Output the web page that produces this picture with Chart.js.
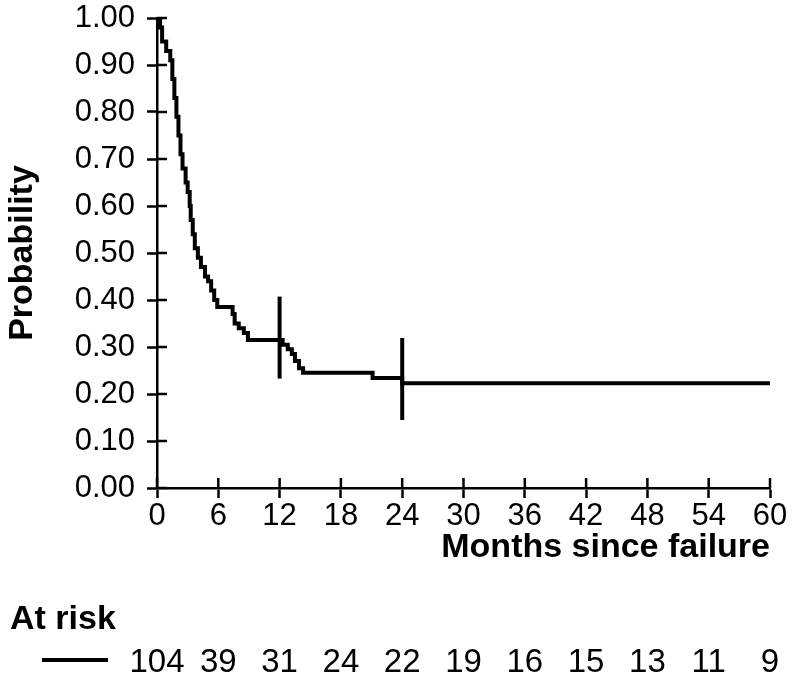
<!DOCTYPE html>
<html>
<head>
<meta charset="utf-8">
<script src="https://cdn.jsdelivr.net/npm/chart.js@4/dist/chart.umd.min.js"></script>
<style>
  body { margin: 0; background: #fff; }
  #grafica { display: block; }
</style>
</head>
<body>
<canvas id="grafica" width="795" height="686"></canvas>
<script>
// curva Kaplan-Meier (meses, probabilidad)
const meses = [0, 0.3, 0.5, 0.9, 1.3, 1.5, 1.7, 1.9, 2.1, 2.3, 2.5, 2.8, 3.0, 3.2, 3.3, 3.5, 3.7, 4.0, 4.3, 4.7,
  5.0, 5.3, 5.6, 5.9, 7.4, 7.6, 8.0, 8.5, 8.9, 12.3, 12.8, 13.2, 13.5, 13.9, 14.3, 21.1, 24.0, 60];
const probabilidad = [1.00, 0.98, 0.95, 0.93, 0.91, 0.87, 0.83, 0.79, 0.75, 0.71, 0.68, 0.65, 0.63, 0.60, 0.57, 0.54, 0.51, 0.49, 0.47, 0.45,
  0.44, 0.42, 0.40, 0.385, 0.37, 0.35, 0.34, 0.33, 0.315, 0.305, 0.295, 0.285, 0.27, 0.255, 0.245, 0.234, 0.223, 0.223];

// marcas de censura
const censuraMeses = [12, 24];
const censuraProb = [0.32, 0.232];

// pacientes en riesgo
const tiemposRiesgo = [0, 6, 12, 18, 24, 30, 36, 42, 48, 54, 60];
const enRiesgo = [104, 39, 31, 24, 22, 19, 16, 15, 13, 11, 9];

const fuente = "'Liberation Sans', Arial, sans-serif";

const marcasInternas = {
  id: 'marcasInternas',
  afterDraw(chart) {
    const ctx = chart.ctx;
    const x = chart.scales.x;
    const y = chart.scales.y;
    ctx.save();
    ctx.strokeStyle = '#000';
    ctx.lineWidth = 2.5;
    ctx.beginPath();
    x.ticks.forEach(t => {
      const px = x.getPixelForValue(t.value);
      ctx.moveTo(px, y.bottom);
      ctx.lineTo(px, y.bottom - 10);
    });
    y.ticks.forEach(t => {
      const py = y.getPixelForValue(t.value);
      ctx.moveTo(x.left, py);
      ctx.lineTo(x.left + 10, py);
    });
    ctx.stroke();

    // tabla "At risk"
    ctx.fillStyle = '#000';
    ctx.textBaseline = 'middle';
    ctx.textAlign = 'left';
    ctx.font = 'bold 34px ' + fuente;
    ctx.fillText('At risk', 10, 620);
    ctx.lineWidth = 4;
    ctx.beginPath();
    ctx.moveTo(42, 660);
    ctx.lineTo(108, 660);
    ctx.stroke();
    ctx.font = '33px ' + fuente;
    ctx.textAlign = 'center';
    tiemposRiesgo.forEach((t, i) => {
      ctx.fillText(String(enRiesgo[i]), x.getPixelForValue(t), 663);
    });
    ctx.restore();
  }
};

new Chart(document.getElementById('grafica'), {
  type: 'line',
  data: {
    datasets: [{
      label: 'Supervivencia',
      data: meses.map((m, i) => ({ x: m, y: probabilidad[i] })),
      borderColor: '#000',
      borderWidth: 4,
      stepped: true,
      pointRadius: 0,
      fill: false
    }, {
      type: 'scatter',
      label: 'Censura',
      data: censuraMeses.map((m, i) => ({ x: m, y: censuraProb[i] })),
      pointStyle: 'line',
      rotation: 90,
      radius: 41,
      borderColor: '#000',
      borderWidth: 4
    }]
  },
  options: {
    responsive: false,
    animation: false,
    layout: { autoPadding: false, padding: { top: 18, right: 25, bottom: 118, left: 0 } },
    plugins: {
      legend: { display: false },
      tooltip: { enabled: false }
    },
    scales: {
      x: {
        type: 'linear',
        min: 0,
        max: 60,
        afterFit(scale) { scale.height = 80; scale.paddingLeft = 0; scale.paddingRight = 0; },
        ticks: { stepSize: 6, color: '#000', font: { family: fuente, size: 31 }, padding: 0, maxRotation: 0, autoSkip: false },
        grid: { drawOnChartArea: false, drawTicks: true, tickLength: 10, tickColor: '#000', tickWidth: 2.5 },
        border: { display: true, color: '#000', width: 2.5 },
        title: { display: true, text: 'Months since failure', align: 'end', color: '#000',
          font: { family: fuente, size: 34, weight: 'bold' }, padding: { top: 0, bottom: 0 } }
      },
      y: {
        min: 0,
        max: 1,
        afterFit(scale) { scale.width = 157; scale.paddingTop = 0; scale.paddingBottom = 0; },
        ticks: { stepSize: 0.1, color: '#000', font: { family: fuente, size: 31 }, padding: 12,
          callback: v => v.toFixed(2) },
        grid: { drawOnChartArea: false, drawTicks: true, tickLength: 10, tickColor: '#000', tickWidth: 2.5 },
        border: { display: true, color: '#000', width: 2.5 },
        title: { display: true, text: 'Probability', color: '#000',
          font: { family: fuente, size: 34, weight: 'bold' }, padding: { top: 2, bottom: 0 } }
      }
    }
  },
  plugins: [marcasInternas]
});
</script>
</body>
</html>
